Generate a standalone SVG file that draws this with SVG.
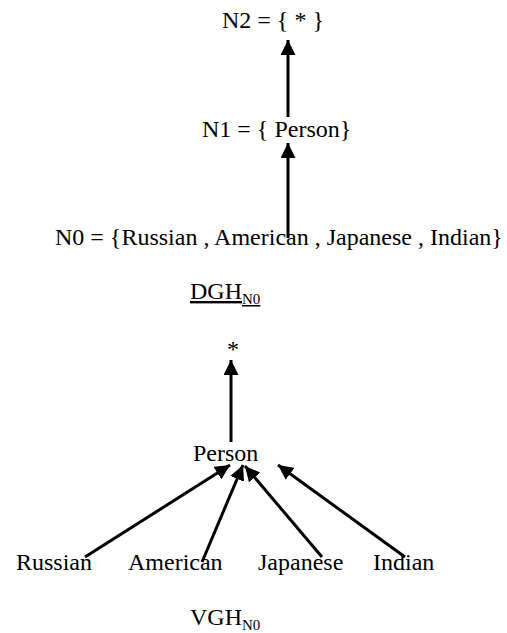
<svg xmlns="http://www.w3.org/2000/svg" width="507" height="633" viewBox="0 0 507 633">
<style>
text{font-family:"Liberation Serif","Times New Roman",serif;font-size:24px;fill:#000}
.sub{font-size:15px}
.c line{stroke:#000;stroke-width:3}
</style>
<defs>
<marker id="ah" markerWidth="5" markerHeight="5" refX="5" refY="2.5" orient="auto" markerUnits="strokeWidth"><path d="M0,0 L5,2.5 L0,5 z" fill="#000"/></marker>
</defs>
<rect width="507" height="633" fill="#fff"/>
<g class="c">
<line x1="288" y1="117" x2="288" y2="40" marker-end="url(#ah)"/>
<line x1="288" y1="238" x2="288" y2="143" marker-end="url(#ah)"/>
<line x1="231" y1="442" x2="231" y2="360" marker-end="url(#ah)"/>
<line x1="85" y1="557" x2="230" y2="465" marker-end="url(#ah)"/>
<line x1="202" y1="562" x2="243" y2="465" marker-end="url(#ah)"/>
<line x1="322" y1="557" x2="245" y2="466" marker-end="url(#ah)"/>
<line x1="405" y1="557" x2="278" y2="465" marker-end="url(#ah)"/>
</g>
<g id="n2"><text x="222" y="28">N2 = { * }</text></g>
<g id="n1"><text x="202" y="137">N1 = { Person}</text></g>
<g id="n0"><text x="55" y="245">N0 = {Russian , American , Japanese , Indian}</text></g>
<g id="dgh"><text x="190" y="299" text-decoration="underline">DGH<tspan class="sub" dy="5">N0</tspan></text></g>
<g id="star"><text x="227" y="357">*</text></g>
<g id="person"><text x="193" y="461">Person</text></g>
<g id="russian"><text x="16" y="570">Russian</text></g>
<g id="american"><text x="128" y="570">American</text></g>
<g id="japanese"><text x="258" y="570">Japanese</text></g>
<g id="indian"><text x="373" y="570">Indian</text></g>
<g id="vgh"><text x="190" y="625">VGH<tspan class="sub" dy="5">N0</tspan></text></g>
</svg>
